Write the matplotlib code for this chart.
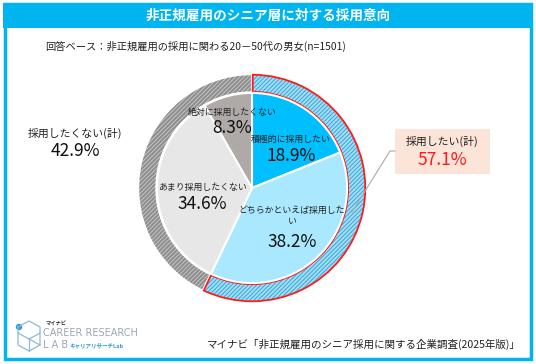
import matplotlib.pyplot as plt
from matplotlib.patches import Rectangle, Wedge, Circle
import numpy as np

plt.rcParams['font.family'] = ['Noto Sans CJK JP', 'DejaVu Sans']
plt.rcParams['hatch.linewidth'] = 0.7

# data
inner_labels = ['積極的に採用したい', 'どちらかといえば採用した\nい', 'あまり採用したくない', '絶対に採用したくない']
inner_values = [18.9, 38.2, 34.6, 8.3]
inner_colors = ['#00BFFF', '#A9E8FF', '#E7E7E7', '#AFAAA8']

outer_labels = ['採用したい(計)', '採用したくない(計)']
outer_values = [57.1, 42.9]

title = '非正規雇用のシニア層に対する採用意向'
base_note = '回答ベース：非正規雇用の採用に関わる20－50代の男女(n=1501)'
source = 'マイナビ「非正規雇用のシニア採用に関する企業調査(2025年版)」'

W, H = 536, 364
fig = plt.figure(figsize=(W / 100, H / 100), dpi=100)

# background overlay in pixel coords
bg = fig.add_axes([0, 0, 1, 1])
bg.set_xlim(0, W)
bg.set_ylim(H, 0)
bg.axis('off')

cyan = '#00B4F0'
bg.add_patch(Rectangle((4.5, 4), 526, 355, fill=False, edgecolor=cyan, lw=2.5))
bg.add_patch(Rectangle((3, 3), 529, 25, facecolor=cyan, edgecolor='none'))
bg.text(W / 2, 16, title, color='white', fontsize=9.8, ha='center', va='center', fontweight='bold')
bg.text(45, 46, base_note, fontsize=7.4, ha='left', va='center', color='#222222')
bg.text(521, 344, source, fontsize=7.6, ha='right', va='center', color='#222222')

# pie
cx, cy, R = 252, 188, 115
pax = fig.add_axes([(cx - R) / W, 1 - (cy + R) / H, 2 * R / W, 2 * R / H])
pax.set_aspect('equal')

ring, _ = pax.pie(outer_values, radius=1.0, startangle=90, counterclock=False,
                  wedgeprops=dict(width=0.16, linewidth=0))
ring_face = ['#A6DDF5', '#8E8E8E']
ring_hatch = ['#2FA8DC', '#C4C4C4']
for w, fc, hc in zip(ring, ring_face, ring_hatch):
    w.set_facecolor(fc)
    w.set_edgecolor(hc)
    w.set_hatch('////////')
# white separators + red outline on the 採用したい ring
for w in ring:
    pax.add_patch(Wedge(w.center, w.r, w.theta1, w.theta2, width=w.width,
                        fill=False, edgecolor='white', lw=1.5))
w0 = ring[0]
pax.add_patch(Wedge(w0.center, w0.r - 0.005, w0.theta1 + 0.4, w0.theta2 - 0.4, width=w0.width - 0.01,
                    fill=False, edgecolor='#FF1A1A', lw=1.3))

pax.pie(inner_values, radius=0.835, colors=inner_colors, startangle=90, counterclock=False,
        wedgeprops=dict(edgecolor='white', linewidth=1.5))
pax.set_xlim(-1.01, 1.01)
pax.set_ylim(-1.01, 1.01)

# top overlay for labels
top = fig.add_axes([0, 0, 1, 1])
top.set_xlim(0, W)
top.set_ylim(H, 0)
top.axis('off')

lab_pos = [(291, 139), (292, 216), (202, 187), (232, 112)]
pct_pos = [(291, 156), (292, 242), (202, 204), (232, 128)]
for lab, val, (lx, ly), (px, py) in zip(inner_labels, inner_values, lab_pos, pct_pos):
    top.text(lx, ly, lab, fontsize=6.4, ha='center', va='center', color='#222222', linespacing=1.4)
    top.text(px, py, f'{val}%', fontsize=12.5, ha='center', va='center', color='#111111')

# callouts
top.text(75, 133, outer_labels[1], fontsize=7.8, ha='center', va='center', color='#222222')
top.text(75, 151, f'{outer_values[1]}%', fontsize=12.5, ha='center', va='center', color='#111111')

top.add_patch(Rectangle((395, 129), 95, 45, facecolor='#FCE4D8', edgecolor='none'))
top.plot([352, 390, 395], [212, 151, 151], color='#AAAAAA', lw=0.8)
top.text(442, 141, outer_labels[0], fontsize=7.8, ha='center', va='center', color='#222222')
top.text(442, 160, f'{outer_values[0]}%', fontsize=12.5, ha='center', va='center', color='#FF1A1A')

# logo
lc = '#8FB8D8'
hx = [18, 29, 40, 40, 29, 18, 18]
hy = [327, 321, 327, 345, 351, 345, 327]
top.plot(hx, hy, color=lc, lw=0.9)
top.plot([18, 29, 40], [333, 339, 333], color=lc, lw=0.9)
top.plot([29, 29], [339, 351], color=lc, lw=0.9)
top.plot([29, 40], [339, 345], color=lc, lw=0.9)
top.add_patch(Circle((19, 327), 3.2, facecolor='#2E9BD6', edgecolor='none'))
top.text(46, 324, 'マイナビ', fontsize=3.8, fontweight='bold', ha='left', va='center', color='#333333')
top.text(43, 333, 'CAREER RESEARCH', fontsize=7, ha='left', va='center', color='#9AA8B4', fontfamily='DejaVu Sans')
top.text(43, 345, 'L A B', fontsize=7, ha='left', va='center', color='#9AA8B4', fontfamily='DejaVu Sans')
top.text(70, 345, 'キャリアリサーチLab', fontsize=4, fontweight='bold', ha='left', va='center', color='#2E9BD6')

fig.savefig('out.png', dpi=100)
